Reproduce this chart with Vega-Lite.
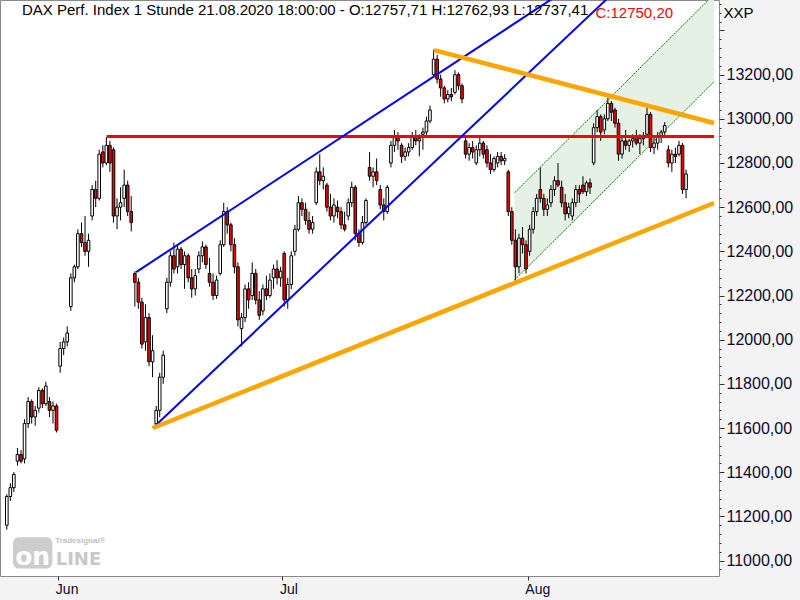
{
  "$schema": "https://vega.github.io/schema/vega-lite/v6.json",
  "width": 719,
  "height": 576,
  "autosize": {"type": "none"},
  "padding": {"left": 0, "top": 0, "right": 81, "bottom": 24},
  "background": "#f3f3f3",
  "config": {
    "view": {"stroke": "#8a8a8a", "strokeWidth": 1, "fill": "white"},
    "font": "Liberation Sans",
    "axis": {"labelFont": "Liberation Sans", "titleFont": "Liberation Sans", "domain": false, "grid": false, "labelOverlap": false, "tickColor": "#333333", "labelColor": "#0a0a30", "titleFontWeight": "normal"}
  },
  "title": {"text": "DAX Perf. Index 1 Stunde  21.08.2020 18:00:00 - O:12757,71 H:12762,93 L:12737,41", "anchor": "start", "frame": "group", "offset": -22, "dx": 22, "font": "Liberation Sans", "fontSize": 15, "fontWeight": "normal", "color": "black"},
  "datasets": {
    "candles": [
      {"t":0.17,"o":11160,"h":11300,"l":11140,"c":11290},
      {"t":0.5,"o":11290,"h":11350,"l":11270,"c":11330},
      {"t":0.83,"o":11330,"h":11400,"l":11310,"c":11390},
      {"t":1.17,"o":11450,"h":11510,"l":11430,"c":11480},
      {"t":1.5,"o":11480,"h":11500,"l":11440,"c":11450},
      {"t":1.83,"o":11460,"h":11640,"l":11440,"c":11620},
      {"t":2.17,"o":11620,"h":11740,"l":11600,"c":11720},
      {"t":2.5,"o":11720,"h":11730,"l":11620,"c":11650},
      {"t":2.83,"o":11650,"h":11700,"l":11610,"c":11680},
      {"t":3.17,"o":11690,"h":11785,"l":11670,"c":11770},
      {"t":3.5,"o":11770,"h":11780,"l":11690,"c":11710},
      {"t":3.83,"o":11710,"h":11810,"l":11700,"c":11790},
      {"t":4.17,"o":11720,"h":11740,"l":11650,"c":11680},
      {"t":4.5,"o":11680,"h":11720,"l":11620,"c":11700},
      {"t":4.83,"o":11700,"h":11710,"l":11580,"c":11590},
      {"t":5.17,"o":11880,"h":11990,"l":11850,"c":11960},
      {"t":5.5,"o":11960,"h":12010,"l":11930,"c":11990},
      {"t":5.83,"o":11990,"h":12060,"l":11970,"c":12030},
      {"t":6.17,"o":12150,"h":12300,"l":12130,"c":12280},
      {"t":6.5,"o":12280,"h":12340,"l":12260,"c":12330},
      {"t":6.83,"o":12330,"h":12500,"l":12320,"c":12480},
      {"t":7.17,"o":12480,"h":12530,"l":12420,"c":12440},
      {"t":7.5,"o":12440,"h":12560,"l":12380,"c":12400},
      {"t":7.83,"o":12400,"h":12480,"l":12330,"c":12450},
      {"t":8.17,"o":12560,"h":12700,"l":12540,"c":12680},
      {"t":8.5,"o":12680,"h":12720,"l":12600,"c":12640},
      {"t":8.83,"o":12640,"h":12860,"l":12630,"c":12840},
      {"t":9.17,"o":12850,"h":12880,"l":12780,"c":12800},
      {"t":9.5,"o":12800,"h":12917,"l":12790,"c":12880},
      {"t":9.83,"o":12880,"h":12900,"l":12760,"c":12800},
      {"t":10.17,"o":12860,"h":12870,"l":12530,"c":12560},
      {"t":10.5,"o":12560,"h":12640,"l":12500,"c":12600},
      {"t":10.83,"o":12600,"h":12690,"l":12540,"c":12620},
      {"t":11.17,"o":12640,"h":12770,"l":12600,"c":12700},
      {"t":11.5,"o":12700,"h":12720,"l":12560,"c":12580},
      {"t":11.83,"o":12580,"h":12650,"l":12490,"c":12530},
      {"t":12.17,"o":12300,"h":12310,"l":12150,"c":12260},
      {"t":12.5,"o":12260,"h":12280,"l":12140,"c":12170},
      {"t":12.83,"o":12170,"h":12190,"l":11960,"c":11980},
      {"t":13.17,"o":11990,"h":12160,"l":11950,"c":12100},
      {"t":13.5,"o":12100,"h":12120,"l":11880,"c":11900},
      {"t":13.83,"o":11900,"h":12020,"l":11830,"c":11950},
      {"t":14.17,"o":11620,"h":11700,"l":11600,"c":11680},
      {"t":14.5,"o":11680,"h":11850,"l":11650,"c":11830},
      {"t":14.83,"o":11830,"h":11950,"l":11800,"c":11930},
      {"t":15.17,"o":12140,"h":12280,"l":12120,"c":12260},
      {"t":15.5,"o":12260,"h":12400,"l":12240,"c":12380},
      {"t":15.83,"o":12380,"h":12440,"l":12300,"c":12320},
      {"t":16.17,"o":12330,"h":12430,"l":12300,"c":12410},
      {"t":16.5,"o":12410,"h":12420,"l":12320,"c":12340},
      {"t":16.83,"o":12340,"h":12400,"l":12230,"c":12380},
      {"t":17.17,"o":12380,"h":12390,"l":12260,"c":12280},
      {"t":17.5,"o":12280,"h":12320,"l":12190,"c":12230},
      {"t":17.83,"o":12230,"h":12320,"l":12200,"c":12290},
      {"t":18.17,"o":12320,"h":12400,"l":12300,"c":12380},
      {"t":18.5,"o":12380,"h":12445,"l":12350,"c":12420},
      {"t":18.83,"o":12420,"h":12430,"l":12320,"c":12340},
      {"t":19.17,"o":12300,"h":12370,"l":12240,"c":12260},
      {"t":19.5,"o":12260,"h":12300,"l":12180,"c":12200},
      {"t":19.83,"o":12200,"h":12290,"l":12185,"c":12270},
      {"t":20.17,"o":12300,"h":12450,"l":12290,"c":12430},
      {"t":20.5,"o":12430,"h":12620,"l":12420,"c":12580},
      {"t":20.83,"o":12580,"h":12600,"l":12480,"c":12520},
      {"t":21.17,"o":12520,"h":12530,"l":12400,"c":12430},
      {"t":21.5,"o":12430,"h":12460,"l":12300,"c":12330},
      {"t":21.83,"o":12330,"h":12350,"l":12060,"c":12090},
      {"t":22.17,"o":12050,"h":12120,"l":11970,"c":12100},
      {"t":22.5,"o":12100,"h":12250,"l":12080,"c":12230},
      {"t":22.83,"o":12230,"h":12260,"l":12140,"c":12180},
      {"t":23.17,"o":12200,"h":12350,"l":12180,"c":12300},
      {"t":23.5,"o":12300,"h":12320,"l":12160,"c":12180},
      {"t":23.83,"o":12180,"h":12220,"l":12090,"c":12110},
      {"t":24.17,"o":12130,"h":12250,"l":12110,"c":12230},
      {"t":24.5,"o":12230,"h":12290,"l":12180,"c":12200},
      {"t":24.83,"o":12200,"h":12300,"l":12190,"c":12270},
      {"t":25.17,"o":12280,"h":12340,"l":12230,"c":12320},
      {"t":25.5,"o":12320,"h":12360,"l":12250,"c":12280},
      {"t":25.83,"o":12280,"h":12330,"l":12240,"c":12310},
      {"t":26.17,"o":12390,"h":12400,"l":12150,"c":12180},
      {"t":26.5,"o":12180,"h":12280,"l":12140,"c":12250},
      {"t":26.83,"o":12250,"h":12400,"l":12230,"c":12380},
      {"t":27.17,"o":12400,"h":12520,"l":12380,"c":12500},
      {"t":27.5,"o":12500,"h":12650,"l":12490,"c":12620},
      {"t":27.83,"o":12620,"h":12640,"l":12560,"c":12590},
      {"t":28.17,"o":12590,"h":12620,"l":12520,"c":12540},
      {"t":28.5,"o":12540,"h":12580,"l":12480,"c":12500},
      {"t":28.83,"o":12500,"h":12560,"l":12480,"c":12530},
      {"t":29.17,"o":12620,"h":12780,"l":12610,"c":12760},
      {"t":29.5,"o":12760,"h":12840,"l":12700,"c":12720},
      {"t":29.83,"o":12720,"h":12780,"l":12680,"c":12740},
      {"t":30.17,"o":12700,"h":12710,"l":12580,"c":12600},
      {"t":30.5,"o":12600,"h":12660,"l":12540,"c":12560},
      {"t":30.83,"o":12560,"h":12640,"l":12530,"c":12610},
      {"t":31.17,"o":12600,"h":12630,"l":12550,"c":12580},
      {"t":31.5,"o":12580,"h":12600,"l":12500,"c":12520},
      {"t":31.83,"o":12520,"h":12580,"l":12490,"c":12500},
      {"t":32.17,"o":12560,"h":12640,"l":12540,"c":12620},
      {"t":32.5,"o":12620,"h":12715,"l":12600,"c":12690},
      {"t":32.83,"o":12690,"h":12700,"l":12450,"c":12480},
      {"t":33.17,"o":12480,"h":12500,"l":12420,"c":12440},
      {"t":33.5,"o":12440,"h":12560,"l":12430,"c":12530},
      {"t":33.83,"o":12530,"h":12640,"l":12520,"c":12630},
      {"t":34.17,"o":12780,"h":12850,"l":12720,"c":12740},
      {"t":34.5,"o":12740,"h":12780,"l":12690,"c":12760},
      {"t":34.83,"o":12760,"h":12820,"l":12700,"c":12720},
      {"t":35.17,"o":12680,"h":12700,"l":12590,"c":12610},
      {"t":35.5,"o":12610,"h":12640,"l":12540,"c":12580},
      {"t":35.83,"o":12580,"h":12700,"l":12570,"c":12690},
      {"t":36.17,"o":12800,"h":12900,"l":12780,"c":12880},
      {"t":36.5,"o":12880,"h":12950,"l":12850,"c":12920},
      {"t":36.83,"o":12920,"h":12940,"l":12860,"c":12900},
      {"t":37.17,"o":12880,"h":12890,"l":12800,"c":12830},
      {"t":37.5,"o":12830,"h":12870,"l":12810,"c":12850},
      {"t":37.83,"o":12850,"h":12890,"l":12830,"c":12870},
      {"t":38.17,"o":12870,"h":12940,"l":12860,"c":12920},
      {"t":38.5,"o":12920,"h":12950,"l":12880,"c":12900},
      {"t":38.83,"o":12900,"h":12930,"l":12830,"c":12910},
      {"t":39.17,"o":12930,"h":12960,"l":12860,"c":12940},
      {"t":39.5,"o":12940,"h":13010,"l":12920,"c":12990},
      {"t":39.83,"o":12990,"h":13060,"l":12980,"c":13040},
      {"t":40.17,"o":13200,"h":13313,"l":13190,"c":13270},
      {"t":40.5,"o":13270,"h":13290,"l":13160,"c":13180},
      {"t":40.83,"o":13180,"h":13200,"l":13100,"c":13140},
      {"t":41.17,"o":13140,"h":13150,"l":13070,"c":13090},
      {"t":41.5,"o":13090,"h":13130,"l":13075,"c":13110},
      {"t":41.83,"o":13110,"h":13140,"l":13080,"c":13100},
      {"t":42.17,"o":13120,"h":13220,"l":13110,"c":13200},
      {"t":42.5,"o":13200,"h":13210,"l":13130,"c":13150},
      {"t":42.83,"o":13150,"h":13160,"l":13070,"c":13090},
      {"t":43.17,"o":12900,"h":12920,"l":12820,"c":12840},
      {"t":43.5,"o":12840,"h":12890,"l":12810,"c":12870},
      {"t":43.83,"o":12870,"h":12900,"l":12820,"c":12850},
      {"t":44.17,"o":12800,"h":12880,"l":12790,"c":12860},
      {"t":44.5,"o":12860,"h":12920,"l":12830,"c":12890},
      {"t":44.83,"o":12890,"h":12900,"l":12820,"c":12840},
      {"t":45.17,"o":12860,"h":12880,"l":12780,"c":12800},
      {"t":45.5,"o":12800,"h":12840,"l":12750,"c":12770},
      {"t":45.83,"o":12770,"h":12830,"l":12760,"c":12820},
      {"t":46.17,"o":12800,"h":12850,"l":12780,"c":12830},
      {"t":46.5,"o":12830,"h":12850,"l":12790,"c":12810},
      {"t":46.83,"o":12810,"h":12840,"l":12790,"c":12820},
      {"t":47.17,"o":12760,"h":12770,"l":12560,"c":12580},
      {"t":47.5,"o":12580,"h":12600,"l":12430,"c":12450},
      {"t":47.83,"o":12450,"h":12500,"l":12265,"c":12330},
      {"t":48.17,"o":12330,"h":12480,"l":12300,"c":12460},
      {"t":48.5,"o":12460,"h":12510,"l":12390,"c":12430},
      {"t":48.83,"o":12430,"h":12450,"l":12300,"c":12320},
      {"t":49.17,"o":12400,"h":12520,"l":12380,"c":12500},
      {"t":49.5,"o":12500,"h":12600,"l":12480,"c":12580},
      {"t":49.83,"o":12580,"h":12660,"l":12560,"c":12640},
      {"t":50.17,"o":12680,"h":12780,"l":12620,"c":12640},
      {"t":50.5,"o":12640,"h":12660,"l":12560,"c":12590},
      {"t":50.83,"o":12590,"h":12640,"l":12560,"c":12610},
      {"t":51.17,"o":12620,"h":12700,"l":12600,"c":12680},
      {"t":51.5,"o":12680,"h":12740,"l":12650,"c":12720},
      {"t":51.83,"o":12720,"h":12800,"l":12690,"c":12700},
      {"t":52.17,"o":12690,"h":12720,"l":12600,"c":12620},
      {"t":52.5,"o":12620,"h":12660,"l":12540,"c":12570},
      {"t":52.83,"o":12570,"h":12620,"l":12550,"c":12600},
      {"t":53.17,"o":12560,"h":12640,"l":12540,"c":12620},
      {"t":53.5,"o":12620,"h":12700,"l":12600,"c":12680},
      {"t":53.83,"o":12680,"h":12700,"l":12620,"c":12660},
      {"t":54.17,"o":12700,"h":12740,"l":12660,"c":12670},
      {"t":54.5,"o":12670,"h":12720,"l":12650,"c":12710},
      {"t":54.83,"o":12710,"h":12730,"l":12660,"c":12690},
      {"t":55.17,"o":12800,"h":12980,"l":12790,"c":12960},
      {"t":55.5,"o":12960,"h":13040,"l":12940,"c":13010},
      {"t":55.83,"o":13010,"h":13020,"l":12900,"c":12940},
      {"t":56.17,"o":12950,"h":13020,"l":12930,"c":13000},
      {"t":56.5,"o":13000,"h":13095,"l":12990,"c":13070},
      {"t":56.83,"o":13070,"h":13080,"l":12990,"c":13030},
      {"t":57.17,"o":13040,"h":13050,"l":12960,"c":12980},
      {"t":57.5,"o":12980,"h":13000,"l":12810,"c":12840},
      {"t":57.83,"o":12840,"h":12920,"l":12820,"c":12900},
      {"t":58.17,"o":12900,"h":12950,"l":12860,"c":12880},
      {"t":58.5,"o":12880,"h":12910,"l":12850,"c":12900},
      {"t":58.83,"o":12900,"h":12930,"l":12870,"c":12910},
      {"t":59.17,"o":12920,"h":12950,"l":12880,"c":12890},
      {"t":59.5,"o":12890,"h":12930,"l":12840,"c":12910},
      {"t":59.83,"o":12910,"h":12940,"l":12880,"c":12920},
      {"t":60.17,"o":12930,"h":13050,"l":12920,"c":13020},
      {"t":60.5,"o":13020,"h":13030,"l":12850,"c":12870},
      {"t":60.83,"o":12870,"h":12920,"l":12840,"c":12890},
      {"t":61.17,"o":12890,"h":12940,"l":12860,"c":12920},
      {"t":61.5,"o":12920,"h":12950,"l":12890,"c":12940},
      {"t":61.83,"o":12940,"h":12985,"l":12920,"c":12970},
      {"t":62.17,"o":12860,"h":12880,"l":12780,"c":12800},
      {"t":62.5,"o":12800,"h":12860,"l":12760,"c":12840},
      {"t":62.83,"o":12840,"h":12870,"l":12800,"c":12830},
      {"t":63.17,"o":12840,"h":12900,"l":12830,"c":12880},
      {"t":63.5,"o":12880,"h":12890,"l":12660,"c":12680},
      {"t":63.83,"o":12680,"h":12770,"l":12640,"c":12750}
    ],
    "channel": [
      {"t":47.75,"lo":12270,"hi":12665},
      {"t":66.45,"lo":13168,"hi":13563}
    ],
    "lines": [
      {"name":"res","t":9.52,"p":12920},{"name":"res","t":66.45,"p":12920},
      {"name":"supLow","t":13.86,"p":11600},{"name":"supLow","t":66.45,"p":12619},
      {"name":"resHigh","t":40.2,"p":13311},{"name":"resHigh","t":66.45,"p":12981},
      {"name":"chUp","t":12.29,"p":12306},{"name":"chUp","t":66.45,"p":14025},
      {"name":"chLow","t":13.86,"p":11600},{"name":"chLow","t":66.45,"p":14001}
    ]
  },
  "layer": [
    {
      "data": {"name": "channel"},
      "mark": {"type": "area", "color": "#e5f1e5", "opacity": 1, "clip": true},
      "encoding": {
        "x": {"field": "t", "type": "quantitative", "scale": {"domain": [0, 66.45], "nice": false, "zero": false}, "axis": {"values": [5, 26, 49], "labelExpr": "datum.value == 5 ? 'Jun' : datum.value == 26 ? 'Jul' : 'Aug'", "tickSize": 4, "labelAlign": "left", "labelPadding": 2, "labelOffset": -3, "labelFontSize": 14, "labelFlush": false, "title": "C:12750,20", "titleColor": "#ff0000", "titleFontSize": 15, "titleAlign": "left", "titleBaseline": "alphabetic", "titleAnchor": "start", "titleX": 595, "titleY": -559}},
        "y": {"field": "lo", "type": "quantitative", "scale": {"domain": [10930, 13538], "nice": false, "zero": false}, "axis": {"orient": "right", "values": [10960,11000,11040,11080,11120,11160,11200,11240,11280,11320,11360,11400,11440,11480,11520,11560,11600,11640,11680,11720,11760,11800,11840,11880,11920,11960,12000,12040,12080,12120,12160,12200,12240,12280,12320,12360,12400,12440,12480,12520,12560,12600,12640,12680,12720,12760,12800,12840,12880,12920,12960,13000,13040,13080,13120,13160,13200,13240,13280,13320,13360,13400,13440,13480,13520], "labelExpr": "datum.value % 200 === 0 && datum.value <= 13200 ? replace(format(datum.value, '.2f'), '.', ',') : ''", "tickSize": {"condition": {"test": "datum.value % 200 === 0", "value": 5}, "value": 2}, "labelPadding": 2, "labelFontSize": 16, "labelBaseline": "middle", "title": "XXP", "titleAngle": 0, "titleX": 4, "titleY": 17, "titleAlign": "left", "titleBaseline": "alphabetic", "titleFontSize": 15, "titleColor": "black"}},
        "y2": {"field": "hi"}
      }
    },
    {
      "data": {"name": "candles"},
      "mark": {"type": "rule", "color": "black", "strokeWidth": 1},
      "encoding": {
        "x": {"field": "t", "type": "quantitative", "scale": {"domain": [0, 66.45], "nice": false, "zero": false}, "axis": {"values": [5, 26, 49], "labelExpr": "datum.value == 5 ? 'Jun' : datum.value == 26 ? 'Jul' : 'Aug'", "tickSize": 4, "labelAlign": "left", "labelPadding": 2, "labelOffset": -3, "labelFontSize": 14, "labelFlush": false, "title": "C:12750,20", "titleColor": "#ff0000", "titleFontSize": 15, "titleAlign": "left", "titleBaseline": "alphabetic", "titleAnchor": "start", "titleX": 595, "titleY": -559}},
        "y": {"field": "l", "type": "quantitative", "scale": {"domain": [10930, 13538], "nice": false, "zero": false}, "axis": {"orient": "right", "values": [10960,11000,11040,11080,11120,11160,11200,11240,11280,11320,11360,11400,11440,11480,11520,11560,11600,11640,11680,11720,11760,11800,11840,11880,11920,11960,12000,12040,12080,12120,12160,12200,12240,12280,12320,12360,12400,12440,12480,12520,12560,12600,12640,12680,12720,12760,12800,12840,12880,12920,12960,13000,13040,13080,13120,13160,13200,13240,13280,13320,13360,13400,13440,13480,13520], "labelExpr": "datum.value % 200 === 0 && datum.value <= 13200 ? replace(format(datum.value, '.2f'), '.', ',') : ''", "tickSize": {"condition": {"test": "datum.value % 200 === 0", "value": 5}, "value": 2}, "labelPadding": 2, "labelFontSize": 16, "labelBaseline": "middle", "title": "XXP", "titleAngle": 0, "titleX": 4, "titleY": 17, "titleAlign": "left", "titleBaseline": "alphabetic", "titleFontSize": 15, "titleColor": "black"}},
        "y2": {"field": "h"}
      }
    },
    {
      "data": {"name": "candles"},
      "mark": {"type": "bar", "size": 2.6, "stroke": "black", "strokeWidth": 1},
      "encoding": {
        "x": {"field": "t", "type": "quantitative", "scale": {"domain": [0, 66.45], "nice": false, "zero": false}, "axis": {"values": [5, 26, 49], "labelExpr": "datum.value == 5 ? 'Jun' : datum.value == 26 ? 'Jul' : 'Aug'", "tickSize": 4, "labelAlign": "left", "labelPadding": 2, "labelOffset": -3, "labelFontSize": 14, "labelFlush": false, "title": "C:12750,20", "titleColor": "#ff0000", "titleFontSize": 15, "titleAlign": "left", "titleBaseline": "alphabetic", "titleAnchor": "start", "titleX": 595, "titleY": -559}},
        "y": {"field": "o", "type": "quantitative", "scale": {"domain": [10930, 13538], "nice": false, "zero": false}, "axis": {"orient": "right", "values": [10960,11000,11040,11080,11120,11160,11200,11240,11280,11320,11360,11400,11440,11480,11520,11560,11600,11640,11680,11720,11760,11800,11840,11880,11920,11960,12000,12040,12080,12120,12160,12200,12240,12280,12320,12360,12400,12440,12480,12520,12560,12600,12640,12680,12720,12760,12800,12840,12880,12920,12960,13000,13040,13080,13120,13160,13200,13240,13280,13320,13360,13400,13440,13480,13520], "labelExpr": "datum.value % 200 === 0 && datum.value <= 13200 ? replace(format(datum.value, '.2f'), '.', ',') : ''", "tickSize": {"condition": {"test": "datum.value % 200 === 0", "value": 5}, "value": 2}, "labelPadding": 2, "labelFontSize": 16, "labelBaseline": "middle", "title": "XXP", "titleAngle": 0, "titleX": 4, "titleY": 17, "titleAlign": "left", "titleBaseline": "alphabetic", "titleFontSize": 15, "titleColor": "black"}},
        "y2": {"field": "c"},
        "fill": {"condition": {"test": "datum.c < datum.o", "value": "#ff0000"}, "value": "white"}
      }
    },
    {
      "data": {"name": "channel"},
      "mark": {"type": "line", "color": "#008000", "strokeWidth": 1, "strokeDash": [2, 1], "clip": true},
      "encoding": {
        "x": {"field": "t", "type": "quantitative", "scale": {"domain": [0, 66.45], "nice": false, "zero": false}, "axis": {"values": [5, 26, 49], "labelExpr": "datum.value == 5 ? 'Jun' : datum.value == 26 ? 'Jul' : 'Aug'", "tickSize": 4, "labelAlign": "left", "labelPadding": 2, "labelOffset": -3, "labelFontSize": 14, "labelFlush": false, "title": "C:12750,20", "titleColor": "#ff0000", "titleFontSize": 15, "titleAlign": "left", "titleBaseline": "alphabetic", "titleAnchor": "start", "titleX": 595, "titleY": -559}},
        "y": {"field": "lo", "type": "quantitative", "scale": {"domain": [10930, 13538], "nice": false, "zero": false}, "axis": {"orient": "right", "values": [10960,11000,11040,11080,11120,11160,11200,11240,11280,11320,11360,11400,11440,11480,11520,11560,11600,11640,11680,11720,11760,11800,11840,11880,11920,11960,12000,12040,12080,12120,12160,12200,12240,12280,12320,12360,12400,12440,12480,12520,12560,12600,12640,12680,12720,12760,12800,12840,12880,12920,12960,13000,13040,13080,13120,13160,13200,13240,13280,13320,13360,13400,13440,13480,13520], "labelExpr": "datum.value % 200 === 0 && datum.value <= 13200 ? replace(format(datum.value, '.2f'), '.', ',') : ''", "tickSize": {"condition": {"test": "datum.value % 200 === 0", "value": 5}, "value": 2}, "labelPadding": 2, "labelFontSize": 16, "labelBaseline": "middle", "title": "XXP", "titleAngle": 0, "titleX": 4, "titleY": 17, "titleAlign": "left", "titleBaseline": "alphabetic", "titleFontSize": 15, "titleColor": "black"}}
      }
    },
    {
      "data": {"name": "channel"},
      "mark": {"type": "line", "color": "#008000", "strokeWidth": 1, "strokeDash": [2, 1], "clip": true},
      "encoding": {
        "x": {"field": "t", "type": "quantitative", "scale": {"domain": [0, 66.45], "nice": false, "zero": false}, "axis": {"values": [5, 26, 49], "labelExpr": "datum.value == 5 ? 'Jun' : datum.value == 26 ? 'Jul' : 'Aug'", "tickSize": 4, "labelAlign": "left", "labelPadding": 2, "labelOffset": -3, "labelFontSize": 14, "labelFlush": false, "title": "C:12750,20", "titleColor": "#ff0000", "titleFontSize": 15, "titleAlign": "left", "titleBaseline": "alphabetic", "titleAnchor": "start", "titleX": 595, "titleY": -559}},
        "y": {"field": "hi", "type": "quantitative", "scale": {"domain": [10930, 13538], "nice": false, "zero": false}, "axis": {"orient": "right", "values": [10960,11000,11040,11080,11120,11160,11200,11240,11280,11320,11360,11400,11440,11480,11520,11560,11600,11640,11680,11720,11760,11800,11840,11880,11920,11960,12000,12040,12080,12120,12160,12200,12240,12280,12320,12360,12400,12440,12480,12520,12560,12600,12640,12680,12720,12760,12800,12840,12880,12920,12960,13000,13040,13080,13120,13160,13200,13240,13280,13320,13360,13400,13440,13480,13520], "labelExpr": "datum.value % 200 === 0 && datum.value <= 13200 ? replace(format(datum.value, '.2f'), '.', ',') : ''", "tickSize": {"condition": {"test": "datum.value % 200 === 0", "value": 5}, "value": 2}, "labelPadding": 2, "labelFontSize": 16, "labelBaseline": "middle", "title": "XXP", "titleAngle": 0, "titleX": 4, "titleY": 17, "titleAlign": "left", "titleBaseline": "alphabetic", "titleFontSize": 15, "titleColor": "black"}}
      }
    },
    {
      "data": {"name": "lines"},
      "transform": [{"filter": "datum.name === 'res'"}],
      "mark": {"type": "line", "color": "#ff0000", "strokeWidth": 3, "clip": true},
      "encoding": {
        "x": {"field": "t", "type": "quantitative", "scale": {"domain": [0, 66.45], "nice": false, "zero": false}, "axis": {"values": [5, 26, 49], "labelExpr": "datum.value == 5 ? 'Jun' : datum.value == 26 ? 'Jul' : 'Aug'", "tickSize": 4, "labelAlign": "left", "labelPadding": 2, "labelOffset": -3, "labelFontSize": 14, "labelFlush": false, "title": "C:12750,20", "titleColor": "#ff0000", "titleFontSize": 15, "titleAlign": "left", "titleBaseline": "alphabetic", "titleAnchor": "start", "titleX": 595, "titleY": -559}},
        "y": {"field": "p", "type": "quantitative", "scale": {"domain": [10930, 13538], "nice": false, "zero": false}, "axis": {"orient": "right", "values": [10960,11000,11040,11080,11120,11160,11200,11240,11280,11320,11360,11400,11440,11480,11520,11560,11600,11640,11680,11720,11760,11800,11840,11880,11920,11960,12000,12040,12080,12120,12160,12200,12240,12280,12320,12360,12400,12440,12480,12520,12560,12600,12640,12680,12720,12760,12800,12840,12880,12920,12960,13000,13040,13080,13120,13160,13200,13240,13280,13320,13360,13400,13440,13480,13520], "labelExpr": "datum.value % 200 === 0 && datum.value <= 13200 ? replace(format(datum.value, '.2f'), '.', ',') : ''", "tickSize": {"condition": {"test": "datum.value % 200 === 0", "value": 5}, "value": 2}, "labelPadding": 2, "labelFontSize": 16, "labelBaseline": "middle", "title": "XXP", "titleAngle": 0, "titleX": 4, "titleY": 17, "titleAlign": "left", "titleBaseline": "alphabetic", "titleFontSize": 15, "titleColor": "black"}},
        "detail": {"field": "name"}
      }
    },
    {
      "data": {"name": "lines"},
      "transform": [{"filter": "datum.name === 'chUp' || datum.name === 'chLow'"}],
      "mark": {"type": "line", "color": "#0000ff", "strokeWidth": 2, "clip": true},
      "encoding": {
        "x": {"field": "t", "type": "quantitative", "scale": {"domain": [0, 66.45], "nice": false, "zero": false}, "axis": {"values": [5, 26, 49], "labelExpr": "datum.value == 5 ? 'Jun' : datum.value == 26 ? 'Jul' : 'Aug'", "tickSize": 4, "labelAlign": "left", "labelPadding": 2, "labelOffset": -3, "labelFontSize": 14, "labelFlush": false, "title": "C:12750,20", "titleColor": "#ff0000", "titleFontSize": 15, "titleAlign": "left", "titleBaseline": "alphabetic", "titleAnchor": "start", "titleX": 595, "titleY": -559}},
        "y": {"field": "p", "type": "quantitative", "scale": {"domain": [10930, 13538], "nice": false, "zero": false}, "axis": {"orient": "right", "values": [10960,11000,11040,11080,11120,11160,11200,11240,11280,11320,11360,11400,11440,11480,11520,11560,11600,11640,11680,11720,11760,11800,11840,11880,11920,11960,12000,12040,12080,12120,12160,12200,12240,12280,12320,12360,12400,12440,12480,12520,12560,12600,12640,12680,12720,12760,12800,12840,12880,12920,12960,13000,13040,13080,13120,13160,13200,13240,13280,13320,13360,13400,13440,13480,13520], "labelExpr": "datum.value % 200 === 0 && datum.value <= 13200 ? replace(format(datum.value, '.2f'), '.', ',') : ''", "tickSize": {"condition": {"test": "datum.value % 200 === 0", "value": 5}, "value": 2}, "labelPadding": 2, "labelFontSize": 16, "labelBaseline": "middle", "title": "XXP", "titleAngle": 0, "titleX": 4, "titleY": 17, "titleAlign": "left", "titleBaseline": "alphabetic", "titleFontSize": 15, "titleColor": "black"}},
        "detail": {"field": "name"}
      }
    },
    {
      "data": {"name": "lines"},
      "transform": [{"filter": "datum.name === 'supLow' || datum.name === 'resHigh'"}],
      "mark": {"type": "line", "color": "#ffa500", "strokeWidth": 4.5, "clip": true},
      "encoding": {
        "x": {"field": "t", "type": "quantitative", "scale": {"domain": [0, 66.45], "nice": false, "zero": false}, "axis": {"values": [5, 26, 49], "labelExpr": "datum.value == 5 ? 'Jun' : datum.value == 26 ? 'Jul' : 'Aug'", "tickSize": 4, "labelAlign": "left", "labelPadding": 2, "labelOffset": -3, "labelFontSize": 14, "labelFlush": false, "title": "C:12750,20", "titleColor": "#ff0000", "titleFontSize": 15, "titleAlign": "left", "titleBaseline": "alphabetic", "titleAnchor": "start", "titleX": 595, "titleY": -559}},
        "y": {"field": "p", "type": "quantitative", "scale": {"domain": [10930, 13538], "nice": false, "zero": false}, "axis": {"orient": "right", "values": [10960,11000,11040,11080,11120,11160,11200,11240,11280,11320,11360,11400,11440,11480,11520,11560,11600,11640,11680,11720,11760,11800,11840,11880,11920,11960,12000,12040,12080,12120,12160,12200,12240,12280,12320,12360,12400,12440,12480,12520,12560,12600,12640,12680,12720,12760,12800,12840,12880,12920,12960,13000,13040,13080,13120,13160,13200,13240,13280,13320,13360,13400,13440,13480,13520], "labelExpr": "datum.value % 200 === 0 && datum.value <= 13200 ? replace(format(datum.value, '.2f'), '.', ',') : ''", "tickSize": {"condition": {"test": "datum.value % 200 === 0", "value": 5}, "value": 2}, "labelPadding": 2, "labelFontSize": 16, "labelBaseline": "middle", "title": "XXP", "titleAngle": 0, "titleX": 4, "titleY": 17, "titleAlign": "left", "titleBaseline": "alphabetic", "titleFontSize": 15, "titleColor": "black"}},
        "detail": {"field": "name"}
      }
    },
    {
      "data": {"values": [{"k": 1}]},
      "mark": {"type": "rect", "color": "#cdcdcd", "cornerRadius": 6},
      "encoding": {
        "x": {"datum": 0.74, "type": "quantitative", "scale": {"domain": [0, 66.45], "nice": false, "zero": false}, "axis": {"values": [5, 26, 49], "labelExpr": "datum.value == 5 ? 'Jun' : datum.value == 26 ? 'Jul' : 'Aug'", "tickSize": 4, "labelAlign": "left", "labelPadding": 2, "labelOffset": -3, "labelFontSize": 14, "labelFlush": false, "title": "C:12750,20", "titleColor": "#ff0000", "titleFontSize": 15, "titleAlign": "left", "titleBaseline": "alphabetic", "titleAnchor": "start", "titleX": 595, "titleY": -559}},
        "x2": {"datum": 4.44},
        "y": {"datum": 11106, "type": "quantitative", "scale": {"domain": [10930, 13538], "nice": false, "zero": false}, "axis": {"orient": "right", "values": [10960,11000,11040,11080,11120,11160,11200,11240,11280,11320,11360,11400,11440,11480,11520,11560,11600,11640,11680,11720,11760,11800,11840,11880,11920,11960,12000,12040,12080,12120,12160,12200,12240,12280,12320,12360,12400,12440,12480,12520,12560,12600,12640,12680,12720,12760,12800,12840,12880,12920,12960,13000,13040,13080,13120,13160,13200,13240,13280,13320,13360,13400,13440,13480,13520], "labelExpr": "datum.value % 200 === 0 && datum.value <= 13200 ? replace(format(datum.value, '.2f'), '.', ',') : ''", "tickSize": {"condition": {"test": "datum.value % 200 === 0", "value": 5}, "value": 2}, "labelPadding": 2, "labelFontSize": 16, "labelBaseline": "middle", "title": "XXP", "titleAngle": 0, "titleX": 4, "titleY": 17, "titleAlign": "left", "titleBaseline": "alphabetic", "titleFontSize": 15, "titleColor": "black"}},
        "y2": {"datum": 10964}
      }
    },
    {
      "data": {"values": [{"k": 1}]},
      "mark": {"type": "text", "text": "on", "color": "white", "font": "DejaVu Sans", "fontWeight": "bold", "fontSize": 25, "align": "center", "baseline": "alphabetic"},
      "encoding": {
        "x": {"datum": 2.59, "type": "quantitative", "scale": {"domain": [0, 66.45], "nice": false, "zero": false}, "axis": {"values": [5, 26, 49], "labelExpr": "datum.value == 5 ? 'Jun' : datum.value == 26 ? 'Jul' : 'Aug'", "tickSize": 4, "labelAlign": "left", "labelPadding": 2, "labelOffset": -3, "labelFontSize": 14, "labelFlush": false, "title": "C:12750,20", "titleColor": "#ff0000", "titleFontSize": 15, "titleAlign": "left", "titleBaseline": "alphabetic", "titleAnchor": "start", "titleX": 595, "titleY": -559}},
        "y": {"datum": 10982, "type": "quantitative", "scale": {"domain": [10930, 13538], "nice": false, "zero": false}, "axis": {"orient": "right", "values": [10960,11000,11040,11080,11120,11160,11200,11240,11280,11320,11360,11400,11440,11480,11520,11560,11600,11640,11680,11720,11760,11800,11840,11880,11920,11960,12000,12040,12080,12120,12160,12200,12240,12280,12320,12360,12400,12440,12480,12520,12560,12600,12640,12680,12720,12760,12800,12840,12880,12920,12960,13000,13040,13080,13120,13160,13200,13240,13280,13320,13360,13400,13440,13480,13520], "labelExpr": "datum.value % 200 === 0 && datum.value <= 13200 ? replace(format(datum.value, '.2f'), '.', ',') : ''", "tickSize": {"condition": {"test": "datum.value % 200 === 0", "value": 5}, "value": 2}, "labelPadding": 2, "labelFontSize": 16, "labelBaseline": "middle", "title": "XXP", "titleAngle": 0, "titleX": 4, "titleY": 17, "titleAlign": "left", "titleBaseline": "alphabetic", "titleFontSize": 15, "titleColor": "black"}}
      }
    },
    {
      "data": {"values": [{"k": 1}]},
      "mark": {"type": "text", "text": "LINE", "color": "#c8c8c8", "font": "DejaVu Sans", "fontWeight": "bold", "fontSize": 18, "align": "left", "baseline": "alphabetic"},
      "encoding": {
        "x": {"datum": 4.75, "type": "quantitative", "scale": {"domain": [0, 66.45], "nice": false, "zero": false}, "axis": {"values": [5, 26, 49], "labelExpr": "datum.value == 5 ? 'Jun' : datum.value == 26 ? 'Jul' : 'Aug'", "tickSize": 4, "labelAlign": "left", "labelPadding": 2, "labelOffset": -3, "labelFontSize": 14, "labelFlush": false, "title": "C:12750,20", "titleColor": "#ff0000", "titleFontSize": 15, "titleAlign": "left", "titleBaseline": "alphabetic", "titleAnchor": "start", "titleX": 595, "titleY": -559}},
        "y": {"datum": 10978, "type": "quantitative", "scale": {"domain": [10930, 13538], "nice": false, "zero": false}, "axis": {"orient": "right", "values": [10960,11000,11040,11080,11120,11160,11200,11240,11280,11320,11360,11400,11440,11480,11520,11560,11600,11640,11680,11720,11760,11800,11840,11880,11920,11960,12000,12040,12080,12120,12160,12200,12240,12280,12320,12360,12400,12440,12480,12520,12560,12600,12640,12680,12720,12760,12800,12840,12880,12920,12960,13000,13040,13080,13120,13160,13200,13240,13280,13320,13360,13400,13440,13480,13520], "labelExpr": "datum.value % 200 === 0 && datum.value <= 13200 ? replace(format(datum.value, '.2f'), '.', ',') : ''", "tickSize": {"condition": {"test": "datum.value % 200 === 0", "value": 5}, "value": 2}, "labelPadding": 2, "labelFontSize": 16, "labelBaseline": "middle", "title": "XXP", "titleAngle": 0, "titleX": 4, "titleY": 17, "titleAlign": "left", "titleBaseline": "alphabetic", "titleFontSize": 15, "titleColor": "black"}}
      }
    },
    {
      "data": {"values": [{"k": 1}]},
      "mark": {"type": "text", "text": "Tradesignal®", "color": "#c0c0c0", "font": "Liberation Sans", "fontWeight": "bold", "fontSize": 8, "align": "left", "baseline": "alphabetic"},
      "encoding": {
        "x": {"datum": 4.7, "type": "quantitative", "scale": {"domain": [0, 66.45], "nice": false, "zero": false}, "axis": {"values": [5, 26, 49], "labelExpr": "datum.value == 5 ? 'Jun' : datum.value == 26 ? 'Jul' : 'Aug'", "tickSize": 4, "labelAlign": "left", "labelPadding": 2, "labelOffset": -3, "labelFontSize": 14, "labelFlush": false, "title": "C:12750,20", "titleColor": "#ff0000", "titleFontSize": 15, "titleAlign": "left", "titleBaseline": "alphabetic", "titleAnchor": "start", "titleX": 595, "titleY": -559}},
        "y": {"datum": 11078, "type": "quantitative", "scale": {"domain": [10930, 13538], "nice": false, "zero": false}, "axis": {"orient": "right", "values": [10960,11000,11040,11080,11120,11160,11200,11240,11280,11320,11360,11400,11440,11480,11520,11560,11600,11640,11680,11720,11760,11800,11840,11880,11920,11960,12000,12040,12080,12120,12160,12200,12240,12280,12320,12360,12400,12440,12480,12520,12560,12600,12640,12680,12720,12760,12800,12840,12880,12920,12960,13000,13040,13080,13120,13160,13200,13240,13280,13320,13360,13400,13440,13480,13520], "labelExpr": "datum.value % 200 === 0 && datum.value <= 13200 ? replace(format(datum.value, '.2f'), '.', ',') : ''", "tickSize": {"condition": {"test": "datum.value % 200 === 0", "value": 5}, "value": 2}, "labelPadding": 2, "labelFontSize": 16, "labelBaseline": "middle", "title": "XXP", "titleAngle": 0, "titleX": 4, "titleY": 17, "titleAlign": "left", "titleBaseline": "alphabetic", "titleFontSize": 15, "titleColor": "black"}}
      }
    }
  ]
}
